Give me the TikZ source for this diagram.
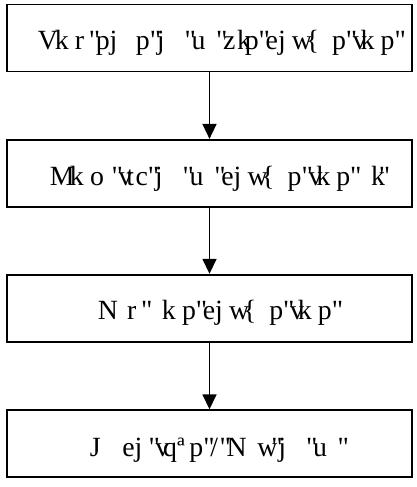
\documentclass[tikz,border=0pt]{standalone}
\usepackage{fontspec}
\setmainfont{Liberation Serif}[Ligatures=TeXOff]
\usetikzlibrary{arrows.meta}
\newcommand\gl[2]{\makebox[#1em][l]{#2}}
\newcommand\gp[1]{\hspace*{#1em}}
\begin{document}
\begin{tikzpicture}[x=1pt,y=-1pt,
  stepbox/.style={draw=black,line width=1.8pt,minimum width=405pt,minimum height=67pt,inner sep=0pt},
  txt/.style={inner sep=0pt,anchor=base west,font=\fontsize{27.8pt}{30pt}\selectfont},
  flow/.style={line width=1.6pt,-{Triangle[width=14pt,length=15pt]}}]
\useasboundingbox (0,0) rectangle (417,487);
\node[stepbox] (b1) at (209.5,38) {};
\node[stepbox] (b2) at (209.5,173.3) {};
\node[stepbox] (b3) at (209.5,308.2) {};
\node[stepbox] (b4) at (209.5,443.7) {};
\node[txt] (t1) at (37.7,49) {\gl{.611}{V}\gl{.278}{k}\gp{.444}\gl{.5}{r}\gl{.25}{"}\gl{.5}{p}\gl{.5}{j}\gp{.444}\gl{.5}{p}\gl{.25}{"}\gl{.5}{j}\gp{.5}\gl{.25}{"}\gl{.389}{u}\gp{.5}\gl{.25}{"}\gl{.5}{z}\gl{.278}{k}\gl{.5}{p}\gl{.25}{"}\gl{.444}{e}\gl{.5}{j}\gl{.5}{w}\gl{.5}{\{}\gp{.444}\gl{.5}{p}\gl{.25}{"}\gl{.278}{v}\gl{.278}{k}\gp{.444}\gl{.5}{p}\gl{.25}{"}};
\node[txt] (t2) at (49.7,185) {\gl{.722}{M}\gl{.278}{k}\gp{.444}\gl{.778}{o}\gl{.25}{"}\gl{.278}{v}\gl{.333}{t}\gl{.444}{c}\gl{.25}{"}\gl{.5}{j}\gp{.5}\gl{.25}{"}\gl{.389}{u}\gp{.5}\gl{.25}{"}\gl{.444}{e}\gl{.5}{j}\gl{.5}{w}\gl{.5}{\{}\gp{.444}\gl{.5}{p}\gl{.25}{"}\gl{.278}{v}\gl{.278}{k}\gp{.444}\gl{.5}{p}\gl{.25}{"}\gp{.5}\gl{.278}{k}\gl{.25}{"}};
\node[txt] (t3) at (97.7,319.3) {\gl{.611}{N}\gp{.444}\gl{.5}{r}\gl{.25}{"}\gp{.5}\gl{.278}{k}\gp{.444}\gl{.5}{p}\gl{.25}{"}\gl{.444}{e}\gl{.5}{j}\gl{.5}{w}\gl{.5}{\{}\gp{.444}\gl{.5}{p}\gl{.25}{"}\gl{.278}{v}\gl{.278}{k}\gp{.444}\gl{.5}{p}\gl{.25}{"}};
\node[txt] (t4) at (89.7,456.7) {\gl{.722}{J}\gp{.444}\gl{.444}{e}\gl{.5}{j}\gl{.25}{"}\gl{.278}{v}\gl{.5}{q}\gl{.444}{ª}\gl{.5}{p}\gl{.25}{"}\gl{.333}{/}\gl{.25}{"}\gl{.611}{N}\gp{.5}\gl{.5}{w}\gl{.25}{"}\gl{.5}{j}\gp{.5}\gl{.25}{"}\gl{.389}{u}\gp{.5}\gl{.25}{"}};
\draw[flow] (b1.south) -- (b2.north);
\draw[flow] (b2.south) -- (b3.north);
\draw[flow] (b3.south) -- (b4.north);
\end{tikzpicture}
\end{document}
